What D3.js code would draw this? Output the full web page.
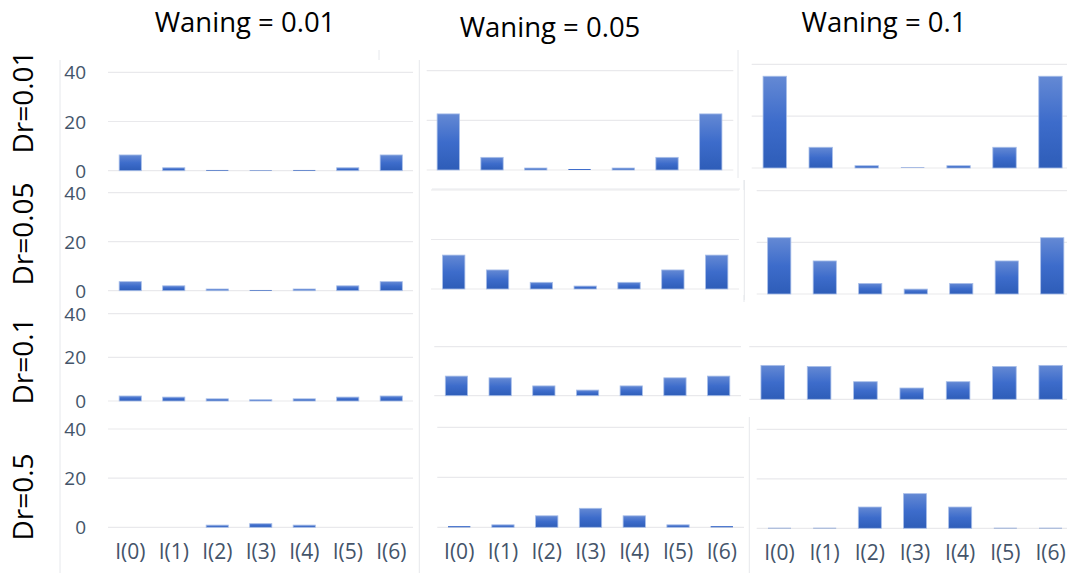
<!DOCTYPE html>
<html><head><meta charset="utf-8">
<script src="https://cdn.jsdelivr.net/npm/d3@7"></script>
<style>
html,body{margin:0;padding:0;background:#fff;}
svg{display:block;}
</style></head>
<body>
<svg id="chart" width="1067" height="573"></svg>
<script>
// ---------- data ----------
const categories = ["I(0)","I(1)","I(2)","I(3)","I(4)","I(5)","I(6)"];
const waningLabels = ["Waning = 0.01","Waning = 0.05","Waning = 0.1"];
const drLabels = ["Dr=0.01","Dr=0.05","Dr=0.1","Dr=0.5"];
const yTicks = [0, 20, 40];
// one array per waning column (0.01, 0.05, 0.1)
const seriesDr001 = [
  [6.4, 1.2, 0.3, 0.2, 0.3, 1.2, 6.4],
  [22.6, 5.1, 0.8, 0.4, 0.8, 5.1, 22.6],
  [35.4, 8.0, 0.9, 0.2, 0.9, 8.0, 35.4]
];
const seriesDr005 = [
  [3.7, 2.0, 0.7, 0.3, 0.7, 2.0, 3.7],
  [13.7, 7.7, 2.7, 1.2, 2.7, 7.7, 13.7],
  [21.8, 12.8, 4.1, 1.9, 4.1, 12.8, 21.8]
];
const seriesDr01 = [
  [2.3, 1.8, 1.0, 0.6, 1.0, 1.8, 2.3],
  [8.0, 7.3, 4.0, 2.3, 4.0, 7.3, 8.0],
  [12.9, 12.5, 6.7, 4.3, 6.7, 12.5, 12.9]
];
const seriesDr05 = [
  [0, 0, 0.9, 1.5, 0.9, 0, 0],
  [0.5, 1.0, 4.6, 7.6, 4.6, 1.0, 0.5],
  [0.2, 0.2, 8.6, 14.0, 8.6, 0.2, 0.2]
];
const rowsData = [seriesDr001, seriesDr005, seriesDr01, seriesDr05];

// ---------- layout (pasted panels, each slightly offset) ----------
const layout = [
  [ {bx:108.5, step:43.5,  y0:170.7, y40:72.3,  gx:[108,413],   grid:[0,20,40]},
    {bx:426.4, step:43.75, y0:170,   y40:70.7,  gx:[426.7,733.3], grid:[0,20,40]},
    {bx:751.8, step:45.95, y0:168,   y40:64.3,  gx:[751.7,1067], grid:[0,20,40]} ],
  [ {bx:108.5, step:43.5,  y0:290.7, y40:192.7, gx:[108,413],   grid:[0,20,40]},
    {bx:431.8, step:43.83, y0:289,   y40:190,   gx:[431,739],   grid:[0,20,40]},
    {bx:756.5, step:45.5,  y0:294,   y40:190.7, gx:[756.7,1067], grid:[0,20,40]} ],
  [ {bx:108.5, step:43.5,  y0:401,   y40:313.7, gx:[108,413],   grid:[0,20,40]},
    {bx:434.6, step:43.7,  y0:395.7, y40:297.7, gx:[434.3,741], grid:[0,20]},
    {bx:749.6, step:46.33, y0:399.3, y40:294.1, gx:[749.3,1067], grid:[0,20]} ],
  [ {bx:108.5, step:43.5,  y0:527.3, y40:429,   gx:[108,413],   grid:[0,20,40]},
    {bx:437.3, step:43.77, y0:527.3, y40:427.3, gx:[437.3,744], grid:[0,20,40]},
    {bx:756.9, step:45.17, y0:528.3, y40:429.3, gx:[756.7,1067], grid:[0,20,40]} ]
];

const svg = d3.select("#chart");
const defs = svg.append("defs");
const grad = defs.append("linearGradient").attr("id","barGrad")
  .attr("x1","0").attr("y1","0").attr("x2","0").attr("y2","1");
grad.append("stop").attr("offset","0%").attr("stop-color","#6489d4");
grad.append("stop").attr("offset","50%").attr("stop-color","#3d6ccb");
grad.append("stop").attr("offset","100%").attr("stop-color","#2e5db8");

const tickColor = "#44546a";
const gridColor = "#e9e9ec";
const frameColor = "#e6e8ec";

// frame lines of the pasted panels
const frames = [
  [60,60,60,573],[419.3,60,419.3,573],[738,50,738,178],[432,189,740,189],
  [744.3,180,744.3,300],[744,295,744,302],[749.3,417,749.3,573],[379,50,379,60],
  [744,180,744,190]
];
svg.append("g").selectAll("line").data(frames).join("line")
  .attr("x1",d=>d[0]).attr("y1",d=>d[1]).attr("x2",d=>d[2]).attr("y2",d=>d[3])
  .attr("stroke",frameColor).attr("stroke-width",1);

rowsData.forEach((rowSeries, r) => {
  rowSeries.forEach((vals, c) => {
    const L = layout[r][c];
    const x = d3.scaleBand().domain(categories)
      .range([L.bx, L.bx + L.step * categories.length])
      .paddingInner(0.49).paddingOuter(0.245);
    const y = d3.scaleLinear().domain([0, 40]).range([L.y0, L.y40]);
    const g = svg.append("g");
    // gridlines
    g.selectAll("line.grid").data(L.grid).join("line").attr("class","grid")
      .attr("x1", L.gx[0]).attr("x2", L.gx[1])
      .attr("y1", d => y(d)).attr("y2", d => y(d))
      .attr("stroke", gridColor).attr("stroke-width", 1.2);
    // bars
    g.selectAll("rect").data(vals).join("rect")
      .attr("x", (d,i) => x(categories[i]))
      .attr("width", x.bandwidth())
      .attr("y", d => y(d))
      .attr("height", d => Math.max(0, y(0) - y(d)))
      .attr("fill", "url(#barGrad)")
      .attr("stroke", "#a9bfe9").attr("stroke-width", d => d > 0.5 ? 0.8 : 0);
    // y tick labels, left column
    if (c === 0) {
      const ax = d3.axisLeft(y).tickValues(yTicks).tickSize(0).tickPadding(0);
      const ag = g.append("g").attr("transform","translate(86,0.5)").call(ax);
      ag.select(".domain").remove();
      ag.selectAll("text").attr("fill", tickColor)
        .style("font-family","'Open Sans', sans-serif").style("font-size","19px");
    }
    // category labels, bottom row
    if (r === rowsData.length - 1) {
      const ax = d3.axisBottom(x).tickSize(0).tickPadding(0);
      const ag = g.append("g").attr("transform", `translate(0,${L.y0 + 17})`).call(ax);
      ag.select(".domain").remove();
      ag.selectAll("text").attr("fill", tickColor)
        .style("font-family","'Open Sans', sans-serif").style("font-size","21px");
    }
  });
});

// column titles
const titlePos = [[245,32],[550,37],[884,32]];
svg.append("g").selectAll("text").data(waningLabels).join("text")
  .attr("x",(d,i)=>titlePos[i][0]).attr("y",(d,i)=>titlePos[i][1])
  .attr("text-anchor","middle")
  .style("font-family","'Open Sans', sans-serif").style("font-size","27.5px")
  .attr("fill","#000").text(d=>d);

// row titles
const rowCenters = [102, 234, 361, 497];
svg.append("g").selectAll("text").data(drLabels).join("text")
  .attr("transform",(d,i)=>`translate(33,${rowCenters[i]}) rotate(-90)`)
  .attr("text-anchor","middle")
  .style("font-family","'Open Sans', sans-serif").style("font-size","28px")
  .attr("fill","#000").text(d=>d);
</script>
</body></html>
